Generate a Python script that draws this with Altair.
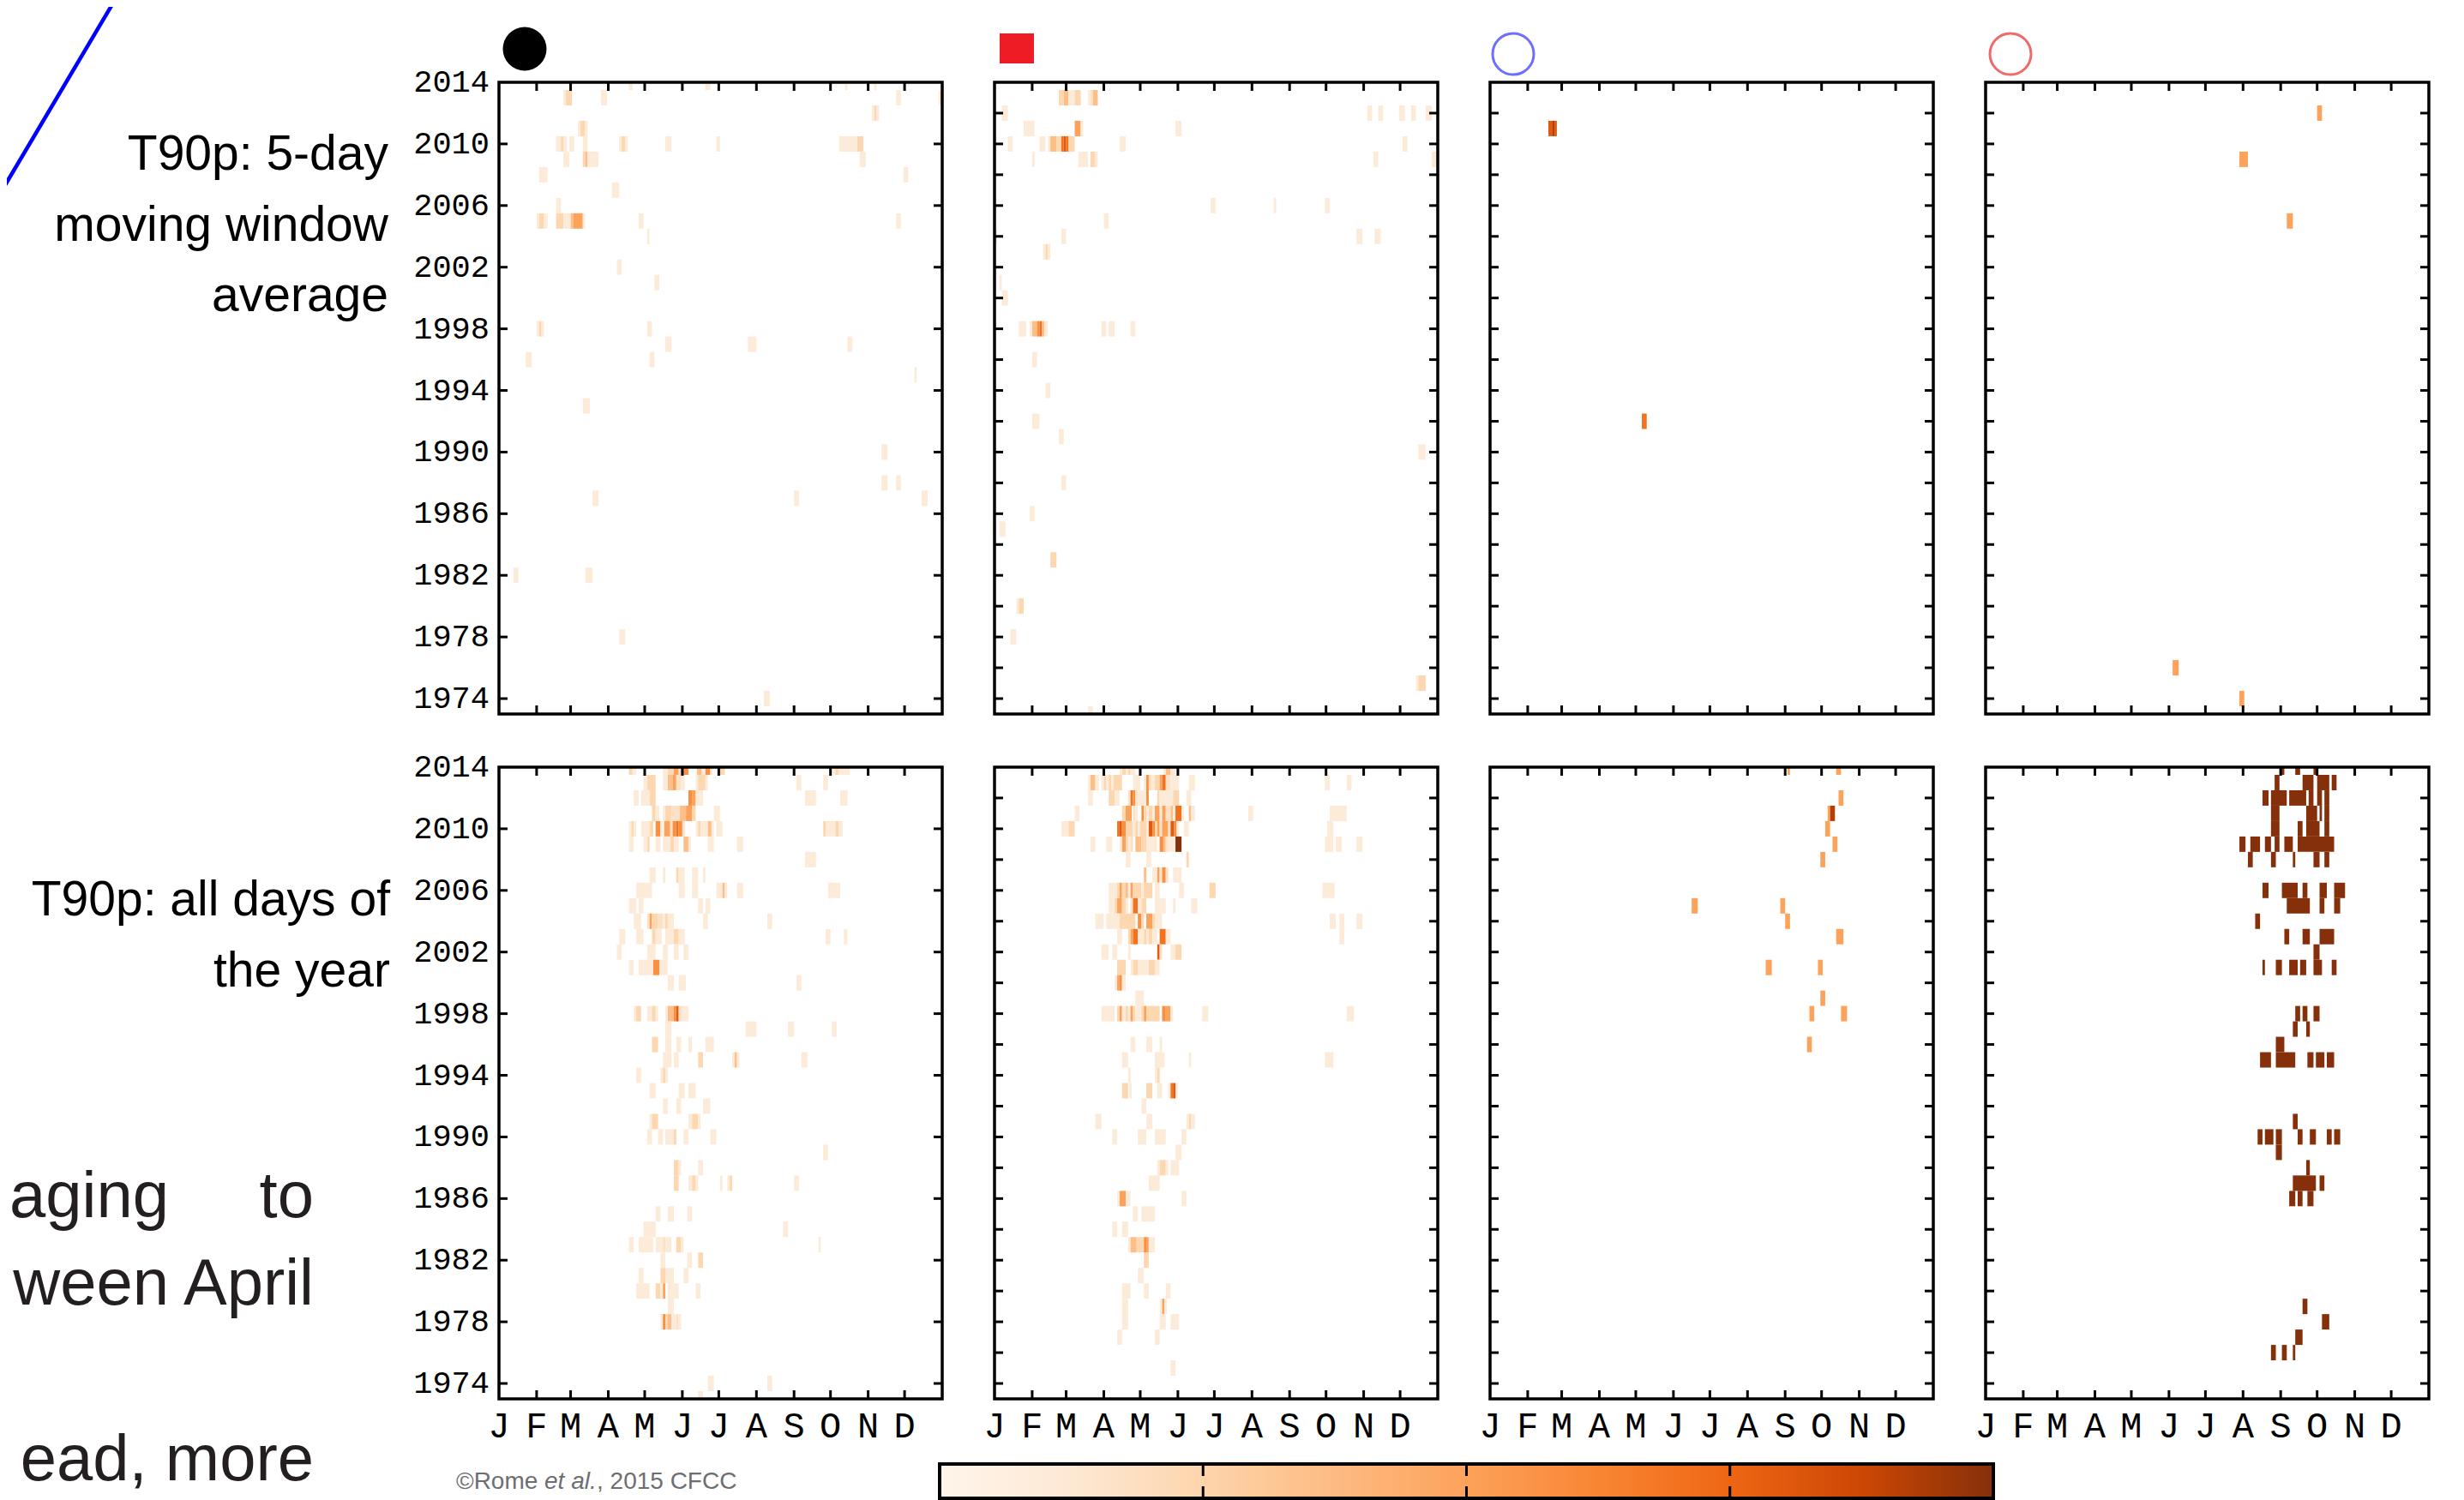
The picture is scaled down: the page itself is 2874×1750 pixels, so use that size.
import altair as alt
import pandas as pd

# ---------------- axes / labels ----------------
MONTH_STARTS = [0, 31, 59, 90, 120, 151, 181, 212, 243, 273, 304, 334]
MONTH_LABELS = ["J", "F", "M", "A", "M", "J", "J", "A", "S", "O", "N", "D"]
MONTH_BOUNDS = [31, 59, 90, 120, 151, 181, 212, 243, 273, 304, 334]
YEAR_LABELS = [1974, 1978, 1982, 1986, 1990, 1994, 1998, 2002, 2006, 2010, 2014]
YEAR_TICKS_4 = [1974, 1978, 1982, 1986, 1990, 1994, 1998, 2002, 2006, 2010]
YEAR_TICKS_2 = [1974, 1976, 1978, 1980, 1982, 1984, 1986, 1988, 1990, 1992,
                1994, 1996, 1998, 2000, 2002, 2004, 2006, 2008, 2010, 2012]

ROW1_TITLE = ["T90p: 5-day", "moving window", "average"]
ROW2_TITLE = ["T90p: all days of", "the year"]
SLIDE_TEXT = ["aging\u00a0\u00a0\u00a0\u00a0\u00a0to", "ween April", "ead, more"]
CREDIT = ["\u00a9Rome ", "et al.", ", 2015 CFCC"]

# ---------------- colour scale ----------------
COLOR_DOMAIN = [0, 0.125, 0.25, 0.375, 0.5, 0.625, 0.75, 0.875, 1.0]
COLOR_RANGE = ["#fff5eb", "#fde8d4", "#fdd5ac", "#fdbb82", "#fda25b",
               "#f98533", "#ee6614", "#cd4705", "#85300a"]

# colour levels
VL, LT, LM, MD, OM, OR, DO, DP, BR, DK = 0.10, 0.17, 0.24, 0.36, 0.50, 0.58, 0.70, 0.80, 0.92, 1.0

# ---------------- cells: year -> [(start day, end day, level)] ----------------
MW_BLACK = {
    2014: [(107, 110, VL), (170, 174, VL), (285, 287, VL), (309, 311, VL)],
    2013: [(53, 55, VL), (55, 60, LM), (84, 89, VL), (327, 331, VL), (362, 365, VL)],
    2012: [(307, 309, VL), (309, 311, LM), (311, 313, VL)],
    2011: [(65, 67, VL), (67, 71, LM), (71, 73, VL)],
    2010: [(47, 51, VL), (51, 53, LM), (53, 56, VL), (58, 62, VL), (69, 73, VL), (99, 101, VL),
           (101, 104, LM), (104, 106, VL), (137, 142, VL), (179, 182, VL), (280, 295, VL), (295, 300, LM)],
    2009: [(53, 58, VL), (69, 71, LM), (71, 73, MD), (73, 82, VL), (297, 302, VL)],
    2008: [(33, 40, VL), (333, 337, VL)],
    2007: [(93, 99, VL)],
    2006: [(47, 51, VL)],
    2005: [(31, 33, VL), (33, 37, LM), (37, 40, VL), (47, 53, LM), (53, 59, VL), (59, 61, MD),
           (61, 69, OM), (69, 71, VL), (115, 119, VL), (327, 331, VL)],
    2004: [(122, 124, VL)],
    2002: [(97, 101, VL)],
    2001: [(128, 132, VL)],
    1998: [(31, 33, VL), (33, 35, LM), (35, 37, VL), (122, 126, VL)],
    1997: [(137, 142, VL), (205, 212, VL), (287, 291, VL)],
    1996: [(22, 27, VL), (124, 128, VL)],
    1995: [(342, 344, VL)],
    1993: [(69, 75, VL)],
    1990: [(315, 320, VL)],
    1988: [(315, 320, VL), (327, 331, VL)],
    1987: [(77, 82, VL), (243, 247, VL), (348, 353, VL)],
    1982: [(12, 16, VL), (71, 77, VL)],
    1978: [(99, 104, VL)],
    1974: [(218, 223, VL)],
}

MW_REDSQ = {
    2013: [(53, 57, LM), (57, 61, MD), (61, 66, VL), (66, 71, LM), (77, 79, VL), (79, 81, LT), (81, 85, MD)],
    2012: [(6, 11, VL), (307, 311, VL), (316, 320, VL), (333, 338, VL), (343, 347, VL), (355, 360, VL)],
    2011: [(24, 33, VL), (66, 71, OM), (71, 73, VL), (149, 154, VL)],
    2010: [(11, 15, VL), (37, 42, VL), (44, 46, VL), (46, 51, MD), (51, 55, LM), (55, 57, DO),
           (57, 59, DP), (59, 61, DO), (61, 66, LM), (103, 108, VL), (336, 340, VL)],
    2009: [(31, 33, VL), (69, 77, VL), (79, 83, LM), (83, 85, VL), (312, 316, VL), (360, 364, VL)],
    2006: [(178, 182, VL), (230, 232, VL), (272, 276, VL)],
    2005: [(90, 94, VL)],
    2004: [(0, 2, VL), (55, 59, VL), (298, 303, VL), (313, 318, VL)],
    2003: [(40, 42, VL), (42, 44, LM), (44, 46, VL)],
    2001: [(4, 6, VL)],
    2000: [(6, 11, VL)],
    1998: [(20, 26, VL), (29, 31, VL), (31, 35, MD), (35, 37, OR), (37, 39, DO), (39, 41, MD),
           (41, 44, VL), (88, 92, VL), (94, 99, VL), (112, 116, VL)],
    1996: [(31, 35, VL)],
    1994: [(42, 46, VL)],
    1992: [(31, 37, VL)],
    1991: [(53, 57, VL)],
    1990: [(349, 355, VL)],
    1988: [(55, 59, VL)],
    1986: [(29, 33, VL)],
    1985: [(4, 9, VL)],
    1983: [(46, 51, LM)],
    1980: [(18, 20, VL), (20, 24, LM)],
    1978: [(13, 18, VL)],
    1975: [(347, 349, VL), (349, 355, LM)],
    1973: [(77, 81, VL)],
}

MW_BLUE = {
    2011: [(48, 51, DP), (51, 53, BR), (53, 55, DP)],
    1992: [(125, 129, DO)],
}

MW_RED = {
    2012: [(273, 277, OM)],
    2009: [(209, 216, OM)],
    2005: [(248, 253, OM)],
    1976: [(154, 159, OM)],
    1974: [(209, 213, OM)],
}

AD_BLACK = {
    2014: [(107, 110, LM), (110, 113, VL), (135, 139, VL), (139, 144, LM), (144, 148, OM), (148, 151, LT),
           (151, 156, OR), (163, 167, MD), (167, 170, VL), (170, 174, OR), (174, 176, VL), (181, 186, LM),
           (275, 277, VL), (277, 280, LM), (280, 289, VL)],
    2013: [(119, 122, VL), (122, 129, LM), (135, 139, VL), (139, 143, MD), (143, 146, OM), (146, 150, LT),
           (150, 153, VL), (162, 164, VL), (164, 170, LM), (170, 172, VL), (245, 249, VL), (267, 271, VL)],
    2012: [(111, 115, VL), (117, 124, VL), (124, 129, LM), (156, 159, OR), (159, 162, OM), (162, 168, VL),
           (252, 261, VL), (281, 287, VL)],
    2011: [(126, 129, LM), (129, 132, VL), (135, 137, VL), (137, 142, LM), (142, 149, LT), (149, 154, MD),
           (154, 159, OM), (159, 162, LM), (177, 182, VL)],
    2010: [(107, 109, VL), (109, 111, LM), (111, 113, VL), (117, 124, VL), (124, 127, LM), (129, 133, OR),
           (133, 135, VL), (136, 141, OM), (141, 143, LT), (143, 146, OR), (146, 148, DO), (148, 151, OR),
           (151, 153, LT), (162, 164, VL), (164, 166, LM), (166, 172, VL), (172, 175, MD), (175, 177, VL),
           (179, 184, VL), (267, 269, LM), (269, 277, VL), (277, 280, LM), (280, 283, VL)],
    2009: [(107, 111, VL), (119, 122, VL), (122, 124, LM), (129, 133, VL), (135, 141, VL), (141, 144, LM),
           (144, 148, VL), (152, 156, MD), (156, 158, VL), (172, 177, VL), (196, 201, VL)],
    2008: [(252, 261, VL)],
    2007: [(124, 129, VL), (135, 137, VL), (146, 148, LM), (148, 153, VL), (159, 164, VL), (168, 170, VL)],
    2006: [(113, 126, VL), (148, 153, VL), (159, 164, VL), (179, 184, VL), (184, 186, MD), (186, 188, VL),
           (196, 201, VL), (271, 281, VL)],
    2005: [(107, 113, VL), (115, 119, VL), (164, 168, VL), (170, 174, VL)],
    2004: [(111, 117, VL), (122, 124, LT), (124, 126, OM), (126, 131, LM), (131, 135, LT), (135, 137, VL),
           (137, 139, LM), (139, 144, VL), (168, 172, VL), (221, 225, VL)],
    2003: [(99, 104, VL), (113, 119, VL), (126, 129, LM), (129, 134, VL), (137, 144, VL), (144, 148, LM),
           (148, 153, VL), (269, 273, VL), (284, 287, VL)],
    2002: [(97, 101, VL), (122, 129, VL), (135, 139, VL), (144, 148, VL), (152, 156, VL)],
    2001: [(107, 111, VL), (115, 127, VL), (127, 132, OR), (132, 139, VL)],
    2000: [(139, 144, VL), (148, 154, VL), (245, 249, VL)],
    1998: [(111, 113, VL), (113, 117, LM), (122, 126, VL), (126, 129, LM), (129, 131, VL), (137, 139, VL),
           (139, 144, MD), (144, 146, OR), (146, 148, DP), (148, 151, LT), (151, 156, VL)],
    1997: [(137, 142, VL), (203, 212, VL), (238, 243, VL), (274, 278, VL)],
    1996: [(126, 131, LM), (137, 142, VL), (146, 150, VL), (156, 159, VL), (170, 177, VL)],
    1995: [(135, 142, VL), (144, 148, VL), (164, 168, LM), (192, 194, VL), (194, 196, MD), (196, 198, VL),
           (249, 254, VL)],
    1994: [(113, 117, VL), (133, 135, VL), (135, 137, LM), (137, 139, VL)],
    1993: [(124, 129, VL), (148, 153, VL), (156, 162, VL)],
    1992: [(135, 139, VL), (146, 150, VL), (168, 174, VL)],
    1991: [(124, 126, VL), (126, 131, LM), (156, 159, VL), (159, 164, LM), (164, 166, VL)],
    1990: [(122, 126, VL), (131, 135, VL), (137, 144, VL), (144, 146, LM), (152, 156, VL), (174, 179, VL)],
    1989: [(267, 271, VL)],
    1988: [(144, 148, LM), (148, 150, VL), (164, 168, VL)],
    1987: [(144, 148, LM), (156, 159, VL), (159, 162, LM), (162, 164, VL), (182, 184, VL), (188, 190, VL),
           (190, 192, LM), (243, 247, VL)],
    1985: [(129, 133, VL), (139, 144, VL), (155, 159, VL)],
    1984: [(119, 129, VL), (234, 238, VL)],
    1983: [(107, 111, VL), (115, 127, VL), (129, 135, VL), (135, 137, LT), (137, 142, VL), (146, 150, LM),
           (150, 152, VL), (263, 265, VL)],
    1982: [(133, 137, VL), (155, 159, VL), (164, 168, LM)],
    1981: [(115, 119, VL), (133, 137, LM), (137, 144, VL), (152, 156, VL)],
    1980: [(113, 124, VL), (129, 133, LM), (133, 135, VL), (135, 137, OM), (139, 148, VL), (162, 166, VL)],
    1979: [(139, 144, VL)],
    1978: [(133, 135, VL), (135, 137, OR), (137, 139, LM), (139, 142, MD), (142, 146, VL), (146, 148, LT),
           (148, 150, VL)],
    1974: [(172, 177, VL), (221, 225, VL)],
    1973: [(164, 168, VL)],
}

AD_REDSQ = {
    2014: [(103, 105, VL), (105, 108, LM), (108, 110, VL), (110, 112, LM), (112, 116, VL), (139, 141, VL),
           (141, 145, MD), (145, 149, VL)],
    2013: [(77, 79, VL), (79, 83, MD), (83, 86, VL), (88, 90, VL), (90, 92, LM), (92, 94, VL), (94, 96, LM),
           (96, 98, VL), (98, 105, LM), (114, 120, VL), (123, 125, VL), (125, 127, OR), (127, 129, LM),
           (129, 132, VL), (132, 136, LM), (136, 138, OM), (138, 141, DO), (141, 145, LT), (145, 152, VL),
           (160, 165, VL), (272, 276, VL), (290, 294, VL)],
    2012: [(77, 81, VL), (94, 99, LM), (99, 103, VL), (110, 112, LT), (112, 114, DO), (114, 116, OR),
           (116, 118, LT), (118, 125, VL), (125, 127, OR), (134, 136, LM), (136, 147, VL), (147, 152, LM),
           (158, 162, VL)],
    2011: [(66, 70, VL), (105, 108, LM), (108, 113, OM), (114, 116, LT), (116, 118, VL), (121, 123, OR),
           (123, 125, LM), (125, 127, VL), (127, 130, LM), (130, 132, VL), (132, 136, OM), (136, 138, VL),
           (138, 141, OM), (141, 145, LT), (145, 147, MD), (147, 149, VL), (149, 154, DO), (154, 156, VL),
           (160, 162, MD), (162, 165, VL), (209, 213, VL), (276, 290, VL)],
    2010: [(55, 61, VL), (61, 66, LM), (101, 103, DO), (103, 105, DP), (105, 108, OR), (108, 114, LM),
           (114, 116, VL), (116, 118, LM), (118, 120, VL), (120, 125, LM), (125, 127, VL), (127, 130, DP),
           (130, 132, OR), (132, 134, LM), (134, 136, OM), (136, 138, LT), (138, 143, OM), (143, 145, LT),
           (145, 148, DP), (148, 150, OR), (150, 152, VL), (156, 160, VL), (274, 279, VL)],
    2009: [(79, 83, VL), (92, 97, VL), (103, 105, VL), (105, 108, OM), (108, 110, LM), (110, 112, VL),
           (112, 114, LT), (116, 121, MD), (121, 125, LM), (125, 134, VL), (136, 139, OR), (139, 141, MD),
           (141, 143, LT), (143, 149, VL), (149, 154, DK), (272, 279, VL), (281, 286, VL), (298, 303, VL)],
    2008: [(108, 112, VL), (125, 129, VL), (158, 160, LM)],
    2007: [(123, 125, MD), (130, 134, VL), (134, 136, OM), (136, 138, VL), (138, 141, OR), (141, 143, LT),
           (147, 154, VL)],
    2006: [(94, 101, VL), (101, 103, LM), (103, 105, OM), (105, 108, LM), (108, 110, MD), (110, 112, VL),
           (112, 114, OM), (114, 121, LM), (121, 123, VL), (123, 130, LM), (132, 136, VL), (152, 156, VL),
           (177, 182, LM), (270, 280, VL)],
    2005: [(94, 99, VL), (99, 101, LM), (101, 105, OM), (105, 108, LM), (108, 110, VL), (112, 114, LT),
           (114, 118, DO), (118, 121, VL), (121, 125, LM), (132, 141, VL), (147, 149, VL), (162, 167, VL)],
    2004: [(83, 90, VL), (92, 103, VL), (103, 116, LM), (118, 121, OR), (121, 123, LM), (125, 130, OM),
           (130, 132, LM), (132, 138, VL), (276, 281, VL), (284, 288, VL), (298, 303, VL)],
    2003: [(101, 105, VL), (110, 112, LM), (112, 114, OM), (114, 118, DO), (118, 123, VL), (123, 125, LM),
           (125, 127, VL), (127, 130, LM), (130, 134, VL), (136, 141, DO), (141, 145, VL), (284, 288, VL)],
    2002: [(88, 94, VL), (97, 101, VL), (110, 112, VL), (134, 136, DP), (136, 138, LT), (145, 149, VL),
           (149, 154, LM)],
    2001: [(101, 108, LM), (112, 114, VL), (114, 118, LM), (118, 127, VL), (127, 132, LM), (132, 136, VL)],
    2000: [(99, 101, VL), (101, 103, OM), (103, 105, OR), (105, 108, VL)],
    1999: [(116, 123, VL)],
    1998: [(88, 99, VL), (101, 103, LM), (103, 105, OM), (105, 108, VL), (108, 110, LM), (110, 112, VL),
           (112, 114, OM), (114, 116, LM), (116, 121, VL), (121, 123, LM), (123, 125, OM), (125, 136, LM),
           (138, 141, OR), (141, 145, OM), (145, 147, VL), (171, 176, VL), (290, 296, VL)],
    1996: [(112, 116, VL), (125, 130, VL), (136, 138, VL)],
    1995: [(105, 110, VL), (132, 140, VL), (160, 162, VL), (272, 279, VL)],
    1994: [(110, 112, VL), (132, 134, VL), (134, 136, LM)],
    1993: [(105, 110, LM), (111, 113, VL), (125, 130, LM), (134, 138, VL), (143, 145, VL), (145, 147, DO),
           (147, 149, DP), (149, 151, VL)],
    1992: [(121, 125, VL)],
    1991: [(83, 88, VL), (125, 130, VL), (158, 160, VL), (160, 162, LM), (162, 165, VL)],
    1990: [(97, 101, VL), (118, 125, VL), (132, 141, VL), (154, 158, VL)],
    1989: [(149, 154, VL)],
    1988: [(134, 136, VL), (136, 141, LM), (141, 143, VL), (145, 152, VL)],
    1987: [(127, 136, VL)],
    1986: [(101, 103, VL), (103, 108, OM), (108, 112, VL), (154, 158, VL)],
    1985: [(114, 118, VL), (121, 132, VL)],
    1984: [(97, 101, VL), (105, 110, VL)],
    1983: [(110, 112, VL), (112, 117, MD), (117, 123, LM), (123, 125, OR), (125, 127, OM), (127, 132, VL)],
    1982: [(123, 127, LM)],
    1981: [(118, 123, VL)],
    1980: [(105, 112, VL), (123, 127, VL), (141, 145, VL)],
    1979: [(105, 110, VL), (136, 138, VL), (138, 140, OM), (140, 142, VL)],
    1978: [(105, 110, VL), (136, 141, VL), (145, 152, VL)],
    1977: [(101, 105, VL), (132, 136, VL)],
    1975: [(145, 149, VL)],
}

AD_BLUE = {
    2014: [(245, 247, OM), (285, 289, OM)],
    2012: [(287, 291, OM)],
    2011: [(278, 280, OM), (280, 284, BR)],
    2010: [(276, 280, OM)],
    2009: [(282, 286, OM)],
    2008: [(272, 276, OM)],
    2005: [(166, 171, OM), (239, 243, OM)],
    2004: [(243, 247, OM)],
    2003: [(285, 291, OM)],
    2001: [(227, 232, OM), (270, 274, OM)],
    1999: [(272, 276, OM)],
    1998: [(263, 267, OM), (289, 294, OM)],
    1996: [(261, 265, OM)],
}

AD_RED = {
    2014: [(242, 246, DK), (255, 259, DK), (270, 273, DK)],
    2013: [(238, 242, DK), (261, 270, DK), (273, 283, DK), (285, 289, DK)],
    2012: [(228, 233, DK), (235, 248, DK), (250, 264, DK), (266, 270, DK), (273, 277, DK), (279, 283, DK)],
    2011: [(235, 242, DK), (264, 273, DK), (275, 277, DK), (279, 283, DK)],
    2010: [(235, 242, DK), (257, 261, DK), (264, 275, DK), (279, 283, DK)],
    2009: [(209, 214, DK), (218, 226, DK), (230, 235, DK), (238, 242, DK), (246, 253, DK), (257, 287, DK)],
    2008: [(216, 220, DK), (235, 239, DK), (253, 255, DK), (270, 275, DK), (279, 283, DK)],
    2006: [(228, 233, DK), (244, 257, DK), (261, 265, DK), (275, 281, DK), (287, 296, DK)],
    2005: [(248, 267, DK), (275, 279, DK), (287, 292, DK)],
    2004: [(222, 226, DK)],
    2003: [(246, 250, DK), (261, 267, DK), (275, 287, DK)],
    2002: [(270, 275, DK)],
    2001: [(228, 230, DK), (239, 244, DK), (250, 257, DK), (259, 264, DK), (270, 277, DK), (285, 289, DK)],
    1998: [(255, 259, DK), (261, 265, DK), (270, 275, DK)],
    1997: [(253, 257, DK), (264, 267, DK)],
    1996: [(239, 246, DK)],
    1995: [(226, 235, DK), (239, 255, DK), (265, 270, DK), (272, 279, DK), (281, 287, DK)],
    1991: [(253, 257, DK)],
    1990: [(224, 228, DK), (230, 237, DK), (239, 244, DK), (257, 261, DK), (267, 272, DK), (281, 285, DK),
           (287, 292, DK)],
    1989: [(239, 244, DK)],
    1988: [(264, 267, DK)],
    1987: [(253, 272, DK), (275, 279, DK)],
    1986: [(250, 255, DK), (257, 261, DK), (265, 270, DK)],
    1979: [(261, 265, DK)],
    1978: [(277, 283, DK)],
    1977: [(255, 261, DK)],
    1976: [(235, 239, DK), (244, 248, DK), (253, 255, DK)],
}

# ---------------- styling ----------------
W, H = 517, 737
TICK = 10
TICK_FONT = "Liberation Mono"
TITLE_FONT = "Liberation Sans"
ONE = pd.DataFrame({"k": [0]})

XS = alt.Scale(domain=[0, 365], nice=False, zero=False)
YS = alt.Scale(domain=[1973, 2014], nice=False, zero=False)
CS = alt.Scale(domain=COLOR_DOMAIN, range=COLOR_RANGE, interpolate="rgb", clamp=True)


def cells_frame(cells):
    rows = [(y, a, b, v) for y, segs in cells.items() for (a, b, v) in segs]
    return pd.DataFrame(rows, columns=["year", "d0", "d1", "v"])


def text_at(txt, x, y, size, font, color="black", align="right", style="normal"):
    return alt.Chart(ONE).mark_text(align=align, baseline="alphabetic", font=font, fontSize=size,
                                    color=color, fontStyle=style).encode(
        x=alt.value(x), y=alt.value(y), text=alt.value(txt))


def panel(cells, ytick_years, show_x, show_y, extras):
    df = cells_frame(cells)
    base = alt.Chart(df).transform_calculate(
        y0="max(datum.year - 0.5, 1973)", y1="min(datum.year + 0.5, 2014)")
    rects = base.mark_rect().encode(
        x=alt.X("d0:Q", scale=XS, axis=None),
        x2="d1:Q",
        y=alt.Y("y0:Q", scale=YS, axis=None),
        y2="y1:Q",
        color=alt.Color("v:Q", scale=CS, legend=None),
    )
    xt = alt.Chart(pd.DataFrame({"day": MONTH_BOUNDS}))
    yt = alt.Chart(pd.DataFrame({"yr": ytick_years}))
    tx = alt.X("day:Q", scale=XS, axis=None)
    ty = alt.Y("yr:Q", scale=YS, axis=None)
    top = xt.mark_rule(color="black", strokeWidth=3).encode(x=tx, y=alt.value(0), y2=alt.value(TICK))
    bot = xt.mark_rule(color="black", strokeWidth=3).encode(x=tx, y=alt.value(H - TICK), y2=alt.value(H))
    lft = yt.mark_rule(color="black", strokeWidth=3).encode(y=ty, x=alt.value(0), x2=alt.value(TICK))
    rgt = yt.mark_rule(color="black", strokeWidth=3).encode(y=ty, x=alt.value(W - TICK), x2=alt.value(W))
    border = alt.Chart(ONE).mark_rect(fillOpacity=0, stroke="black", strokeWidth=3.5).encode(
        x=alt.value(0), x2=alt.value(W), y=alt.value(0), y2=alt.value(H))
    layers = [rects, top, bot, lft, rgt, border]
    if show_x:
        mdf = pd.DataFrame({"day": MONTH_STARTS, "lab": MONTH_LABELS})
        layers.append(alt.Chart(mdf).mark_text(align="center", baseline="top", font=TICK_FONT,
                                               fontSize=42, color="black").encode(
            x=alt.X("day:Q", scale=XS, axis=None), y=alt.value(H + 12), text="lab:N"))
    if show_y:
        ydf = pd.DataFrame({"yr": YEAR_LABELS})
        layers.append(alt.Chart(ydf).mark_text(align="right", baseline="middle", font=TICK_FONT,
                                               fontSize=37, color="black").encode(
            y=alt.Y("yr:Q", scale=YS, axis=None), x=alt.value(-11), text=alt.Text("yr:Q", format="d")))
    return alt.layer(*layers, *extras).properties(width=W, height=H)


# ---------------- decorations ----------------
blue_line = alt.Chart(ONE).mark_rule(color="#0000ff", strokeWidth=4.5).encode(
    x=alt.value(-582), y=alt.value(130), x2=alt.value(-448), y2=alt.value(-96))

m_black = alt.Chart(ONE).mark_point(shape="circle", filled=True, color="black", opacity=1, size=2601).encode(
    x=alt.value(30), y=alt.value(-39))
m_redsq = alt.Chart(ONE).mark_rect(color="#ee1c24").encode(
    x=alt.value(6), x2=alt.value(46), y=alt.value(-57), y2=alt.value(-22))
m_blue = alt.Chart(ONE).mark_point(shape="circle", filled=False, color="#6f6fff", opacity=1,
                                   strokeWidth=3, size=2304).encode(x=alt.value(27), y=alt.value(-33))
m_red = alt.Chart(ONE).mark_point(shape="circle", filled=False, color="#f06a6a", opacity=1,
                                  strokeWidth=3, size=2304).encode(x=alt.value(29), y=alt.value(-33))

row1_title = [text_at(t, -129, 102 + 82.5 * i, 57, TITLE_FONT) for i, t in enumerate(ROW1_TITLE)]
row2_title = [text_at(t, -127, 173 + 83 * i, 57, TITLE_FONT) for i, t in enumerate(ROW2_TITLE)]
slide = [text_at(t, -216, y, 76, "Liberation Sans", color="#231f20")
         for t, y in zip(SLIDE_TEXT, [525, 627, 832])]
credit = [text_at(t, x, 842, 28, "Liberation Sans", color="#6d6e71", align="left", style=s)
          for t, x, s in zip(CREDIT, [-50, 53, 114], ["normal", "italic", "normal"])]

CB_X0, CB_X1, CB_Y0, CB_Y1 = 514, 1743, 813, 853
gradient = alt.Gradient(gradient="linear", x1=0, x2=1, y1=0, y2=0,
                        stops=[alt.GradientStop(offset=o, color=c) for o, c in zip(COLOR_DOMAIN, COLOR_RANGE)])
cbar = alt.Chart(ONE).mark_rect(fill=gradient, stroke="black", strokeWidth=4).encode(
    x=alt.value(CB_X0), x2=alt.value(CB_X1), y=alt.value(CB_Y0), y2=alt.value(CB_Y1))
cb_div = []
for k in (1, 2, 3):
    xk = CB_X0 + (CB_X1 - CB_X0) * k / 4
    cb_div.append(alt.Chart(ONE).mark_rule(color="black", strokeWidth=3).encode(
        x=alt.value(xk), y=alt.value(CB_Y0), y2=alt.value(CB_Y0 + 14)))
    cb_div.append(alt.Chart(ONE).mark_rule(color="black", strokeWidth=3).encode(
        x=alt.value(xk), y=alt.value(CB_Y1 - 14), y2=alt.value(CB_Y1)))

panels = [
    panel(MW_BLACK, YEAR_TICKS_4, False, True, [m_black, blue_line] + row1_title),
    panel(MW_REDSQ, YEAR_TICKS_2, False, False, [m_redsq]),
    panel(MW_BLUE, YEAR_TICKS_2, False, False, [m_blue]),
    panel(MW_RED, YEAR_TICKS_2, False, False, [m_red]),
    panel(AD_BLACK, YEAR_TICKS_4, True, True, row2_title + slide + credit + [cbar] + cb_div),
    panel(AD_REDSQ, YEAR_TICKS_2, True, False, []),
    panel(AD_BLUE, YEAR_TICKS_2, True, False, []),
    panel(AD_RED, YEAR_TICKS_2, True, False, []),
]

chart = alt.concat(*panels, columns=4, spacing={"row": 62, "column": 61}, bounds="flush").properties(
    autosize=alt.AutoSizeParams(type="none"),
    padding={"left": 574, "top": 88, "right": 2276, "bottom": 1654},
).configure_view(stroke="transparent")

chart.save("out.html", embed_options={"renderer": "svg", "actions": False})
